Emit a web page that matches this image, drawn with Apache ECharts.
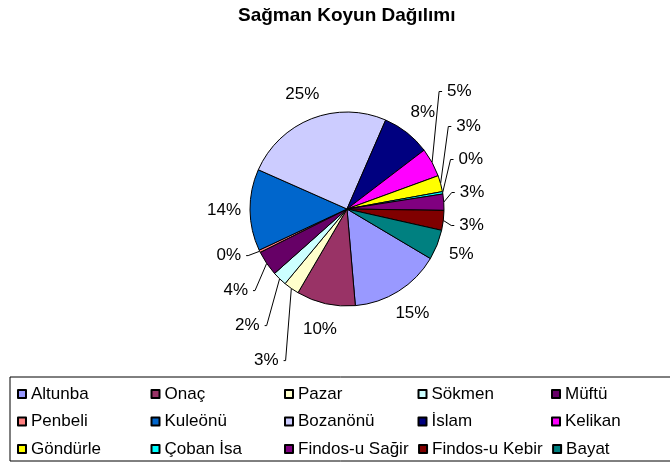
<!DOCTYPE html>
<html>
<head>
<meta charset="utf-8">
<script src="https://cdn.jsdelivr.net/npm/echarts@6/dist/echarts.min.js"></script>
<style>
  html, body { margin: 0; padding: 0; background: #fff; }
  #piechart { width: 670px; height: 465px; }
</style>
</head>
<body>
<div id="piechart"></div>
<script>
// koy adlari (dilim sirasi, saat yonunde)
var koyler = ['Altunba', 'Onaç', 'Pazar', 'Sökmen', 'Müftü', 'Penbeli', 'Kuleönü', 'Bozanönü',
              'İslam', 'Kelikan', 'Göndürle', 'Çoban İsa', 'Findos-u Sağir', 'Findos-u Kebir', 'Bayat'];
// yuzde paylar
var paylar = [15.1, 9.8, 2.6, 2.4, 4.2, 0.4, 13.6, 24.9, 8.1, 4.8, 2.7, 0.4, 2.7, 3.3, 5.0];
var renkler = ['#9999FF', '#993366', '#FFFFCC', '#CCFFFF', '#660066', '#FF8080', '#0066CC', '#CCCCFF',
               '#000080', '#FF00FF', '#FFFF00', '#00FFFF', '#800080', '#800000', '#008080'];

var fontAdi = '"Liberation Sans", Arial, sans-serif';
var baslangic = -30.7;          // ilk dilimin acisi
var merkez = [347, 209];
var yaricap = 97;

// dilimin orta acisi -> etiket sagda mi solda mi
var toplam = 0;
paylar.forEach(function (v) { toplam += v; });
var birikim = 0;
var sagda = paylar.map(function (v) {
    var orta = baslangic - 360 * (birikim + v / 2) / toplam;
    birikim += v;
    return Math.cos(orta * Math.PI / 180) >= 0;
});
function kucuk(i) { return paylar[i] < 4.9; }

// gruplar: 'dilim' (renkli dilimler), 'buyuk' (cizgisiz etiketler),
// 'sol' / 'sag' (kucuk dilimlerin cizgili etiketleri)
function veri(grup) {
    return koyler.map(function (ad, i) {
        var goster = grup === 'buyuk' ? !kucuk(i)
                   : grup === 'sol' ? (kucuk(i) && !sagda[i])
                   : grup === 'sag' ? (kucuk(i) && sagda[i])
                   : false;
        return {
            name: ad,
            value: paylar[i],
            label: { show: goster },
            labelLine: { show: goster && (grup === 'sol' || grup === 'sag') },
            itemStyle: grup === 'dilim' ? { color: renkler[i] } : { color: 'rgba(0,0,0,0)', borderWidth: 0 }
        };
    });
}

function seri(grup, kutu) {
    var lbl = {
        show: true,
        position: grup === 'buyuk' ? 'inside' : 'outside',
        fontFamily: fontAdi,
        fontSize: 17,
        color: '#000',
        formatter: function (p) { return Math.round(p.value) + '%'; }
    };
    if (grup === 'sol' || grup === 'sag') lbl.lineHeight = 33;
    if (grup === 'sag') lbl.alignTo = 'labelLine';
    return {
        name: '',
        type: 'pie',
        left: 0, top: kutu[0], right: 0, height: kutu[1],
        // 'buyuk' etiketleri dilim ortasinda, merkezden ~120px uzakta
        radius: [0, grup === 'buyuk' ? 240 : yaricap],
        center: [merkez[0], merkez[1] - kutu[0]],
        startAngle: baslangic,
        clockwise: true,
        avoidLabelOverlap: true,
        silent: grup !== 'dilim',
        itemStyle: { borderColor: '#000', borderWidth: 1 },
        label: lbl,
        labelLine: {
            length: grup === 'sag' ? 8 : 10,
            length2: grup === 'sag' ? 3 : 2,
            lineStyle: { color: '#000', width: 1 }
        },
        labelLayout: { hideOverlap: false },
        emphasis: { disabled: true },
        data: veri(grup)
    };
}

var dom = document.getElementById("piechart");
var myChart = echarts.init(dom);
var option = {
    animation: false,
    title: {
        text: 'Sağman Koyun Dağılımı',
        left: 233,
        top: 1,
        textStyle: { fontFamily: fontAdi, fontSize: 19, fontWeight: 'bold', color: '#000' }
    },
    legend: {
        left: 10,
        top: 377,
        width: 668,
        orient: 'horizontal',
        padding: [8, 10, 3, 7],
        itemGap: 9.5,
        itemWidth: 8,
        itemHeight: 8,
        icon: 'rect',
        borderColor: '#000',
        borderWidth: 1,
        data: koyler,
        textStyle: { fontFamily: fontAdi, fontSize: 17, color: '#000', width: 110, lineHeight: 18 }
    },
    series: [
        seri('dilim', [0, 465]),
        seri('buyuk', [0, 465]),
        seri('sol', [0, 465]),
        seri('sag', [74, 169])
    ]
};
myChart.setOption(option, true);
</script>
</body>
</html>
